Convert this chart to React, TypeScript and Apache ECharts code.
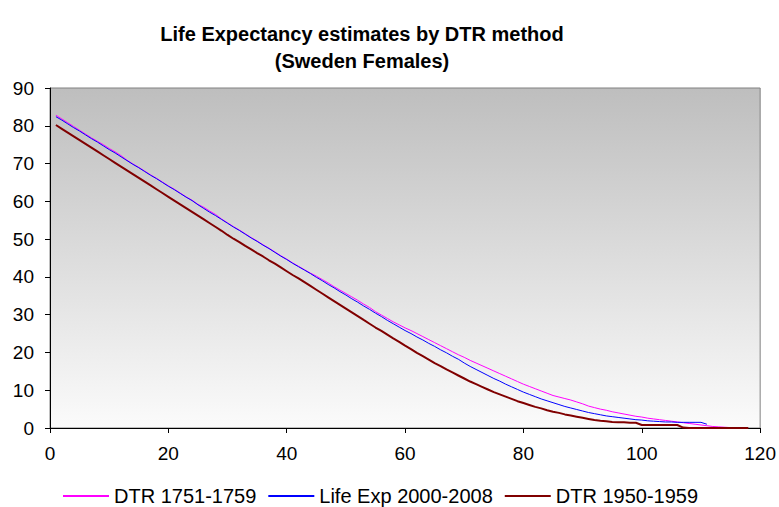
import React, { useEffect, useRef } from "react";
import * as echarts from "echarts";

const titleLines = ["Life Expectancy estimates by DTR method", "(Sweden Females)"];
const seriesNames = ["DTR 1751-1759", "Life Exp 2000-2008", "DTR 1950-1959"];
const startAge = 1;
const xTicks = { min: 0, max: 120, interval: 20 };
const yTicks = { min: 0, max: 90, interval: 10 };

const dtr1751 = [
  82.8, 81.8, 80.8, 79.8, 78.8, 77.8, 76.8, 75.9, 75.0, 74.0,
  73.1, 72.1, 70.9, 69.9, 69.0, 68.0, 67.0, 66.1, 65.1, 64.1,
  63.2, 62.2, 61.2, 60.3, 59.2, 58.4, 57.4, 56.5, 55.3, 54.3,
  53.3, 52.4, 51.4, 50.4, 49.5, 48.5, 47.6, 46.6, 45.6, 44.7,
  43.7, 42.8, 41.9, 41.0, 40.2, 39.3, 38.4, 37.4, 36.5, 35.6,
  34.7, 33.8, 32.8, 31.9, 30.8, 29.9, 29.0, 28.1, 27.3, 26.5,
  25.8, 25.0, 24.2, 23.4, 22.6, 21.8, 21.0, 20.2, 19.4, 18.7,
  17.9, 17.2, 16.5, 15.8, 15.1, 14.4, 13.7, 13.0, 12.3, 11.6,
  11.0, 10.4, 9.8, 9.2, 8.6, 8.2, 7.8, 7.4, 6.9, 6.4,
  5.8, 5.4, 5.0, 4.7, 4.3, 4.0, 3.7, 3.4, 3.1, 2.9,
  2.6, 2.4, 2.2, 2.0, 1.8, 1.6, 1.4, 1.2, 1.0, 0.8,
  0.6, 0.4, 0.3, 0.2, 0.1,
];

const lifeExp2000 = [
  82.4, 81.5, 80.5, 79.5, 78.6, 77.6, 76.6, 75.7, 74.7, 73.7,
  72.8, 71.8, 70.8, 69.8, 68.9, 67.9, 66.9, 66.0, 65.0, 64.0,
  63.1, 62.1, 61.1, 60.2, 59.1, 58.1, 57.1, 56.2, 55.2, 54.2,
  53.2, 52.3, 51.3, 50.3, 49.4, 48.4, 47.5, 46.5, 45.5, 44.6,
  43.6, 42.7, 41.8, 40.9, 39.9, 39.0, 38.0, 37.1, 36.1, 35.2,
  34.2, 33.3, 32.3, 31.4, 30.4, 29.5, 28.5, 27.6, 26.7, 25.8,
  25.0, 24.1, 23.3, 22.4, 21.6, 20.7, 19.9, 19.0, 18.2, 17.2,
  16.3, 15.5, 14.7, 13.9, 13.1, 12.4, 11.6, 10.9, 10.2, 9.5,
  8.9, 8.3, 7.7, 7.2, 6.7, 6.2, 5.7, 5.3, 4.9, 4.5,
  4.1, 3.8, 3.5, 3.2, 3.0, 2.8, 2.6, 2.4, 2.2, 2.1,
  1.9, 1.8, 1.7, 1.6, 1.6, 1.5, 1.5, 1.5, 1.5, 1.5,
  1.0,
];

const dtr1950 = [
  80.2, 79.2, 78.2, 77.2, 76.2, 75.2, 74.2, 73.2, 72.2, 71.2,
  70.2, 69.2, 68.2, 67.2, 66.2, 65.2, 64.2, 63.2, 62.2, 61.2,
  60.2, 59.2, 58.2, 57.2, 56.2, 55.2, 54.2, 53.2, 52.2, 51.1,
  50.1, 49.2, 48.2, 47.3, 46.3, 45.4, 44.4, 43.5, 42.5, 41.5,
  40.5, 39.6, 38.6, 37.6, 36.6, 35.6, 34.6, 33.6, 32.6, 31.6,
  30.6, 29.6, 28.6, 27.6, 26.6, 25.7, 24.7, 23.7, 22.8, 21.8,
  20.9, 19.9, 19.0, 18.1, 17.2, 16.4, 15.5, 14.7, 13.9, 13.1,
  12.3, 11.6, 10.9, 10.2, 9.5, 8.9, 8.3, 7.7, 7.1, 6.6,
  6.1, 5.6, 5.2, 4.7, 4.3, 4.0, 3.6, 3.3, 3.0, 2.7,
  2.4, 2.1, 1.9, 1.8, 1.6, 1.5, 1.5, 1.4, 1.4, 0.8,
  0.8, 0.8, 0.8, 0.8, 0.8, 0.8, 0.1, 0, 0, 0,
  0, 0, 0, 0, 0, 0, 0, 0,
];

const seriesValues = [dtr1751, lifeExp2000, dtr1950];
const seriesColors = ["#ff00ff", "#0000ff", "#800000"];
const seriesWidths = [1, 1, 2];

const FONT = "'Liberation Sans', Arial, sans-serif";

export default function App() {
  const ref = useRef<HTMLDivElement>(null);
  useEffect(() => {
    if (!ref.current) return;
    const chart = echarts.init(ref.current, undefined, { renderer: "svg" });
    chart.setOption({
      animation: false,
      backgroundColor: "#ffffff",
      title: {
        text: titleLines.join("\n"),
        left: 357,
        textAlign: "center",
        top: 15,
        textStyle: {
          fontFamily: FONT,
          fontSize: 20,
          fontWeight: "bold",
          color: "#000",
          lineHeight: 27,
        },
      },
      legend: {
        left: 57,
        top: 481,
        itemGap: 11,
        itemWidth: 46,
        itemHeight: 14,
        itemStyle: { opacity: 0 },
        textStyle: { fontFamily: FONT, fontSize: 20, color: "#000" },
        data: seriesNames,
      },
      grid: {
        left: 50,
        top: 88,
        width: 711,
        height: 340,
        show: true,
        borderColor: "#808080",
        borderWidth: 1,
        backgroundColor: new echarts.graphic.LinearGradient(0, 0, 0, 1, [
          { offset: 0, color: "#bebebe" },
          { offset: 1, color: "#fbfbfb" },
        ]),
      },
      xAxis: {
        type: "value",
        min: xTicks.min,
        max: xTicks.max,
        interval: xTicks.interval,
        axisLine: { show: true, lineStyle: { color: "#000", width: 1 } },
        axisTick: { show: true, length: 5, inside: false, lineStyle: { color: "#000" } },
        axisLabel: { fontFamily: FONT, fontSize: 19, color: "#000", margin: 16 },
        splitLine: { show: false },
      },
      yAxis: {
        type: "value",
        min: yTicks.min,
        max: yTicks.max,
        interval: yTicks.interval,
        axisLine: { show: true, lineStyle: { color: "#000", width: 1 } },
        axisTick: { show: true, length: 5, inside: false, lineStyle: { color: "#000" } },
        axisLabel: { fontFamily: FONT, fontSize: 19, color: "#000", margin: 16 },
        splitLine: { show: false },
      },
      series: seriesNames.map((name, s) => ({
        name,
        type: "line",
        symbol: "none",
        showSymbol: false,
        data: seriesValues[s].map((v, i) => [startAge + i, v]),
        lineStyle: { color: seriesColors[s], width: seriesWidths[s] },
        itemStyle: { color: seriesColors[s] },
        z: s === 2 ? 3 : s === 1 ? 2 : 1,
      })),
    });
    return () => chart.dispose();
  }, []);
  return (
    <div
      ref={ref}
      style={{ position: "fixed", left: 0, top: 0, width: 779, height: 507 }}
    />
  );
}
